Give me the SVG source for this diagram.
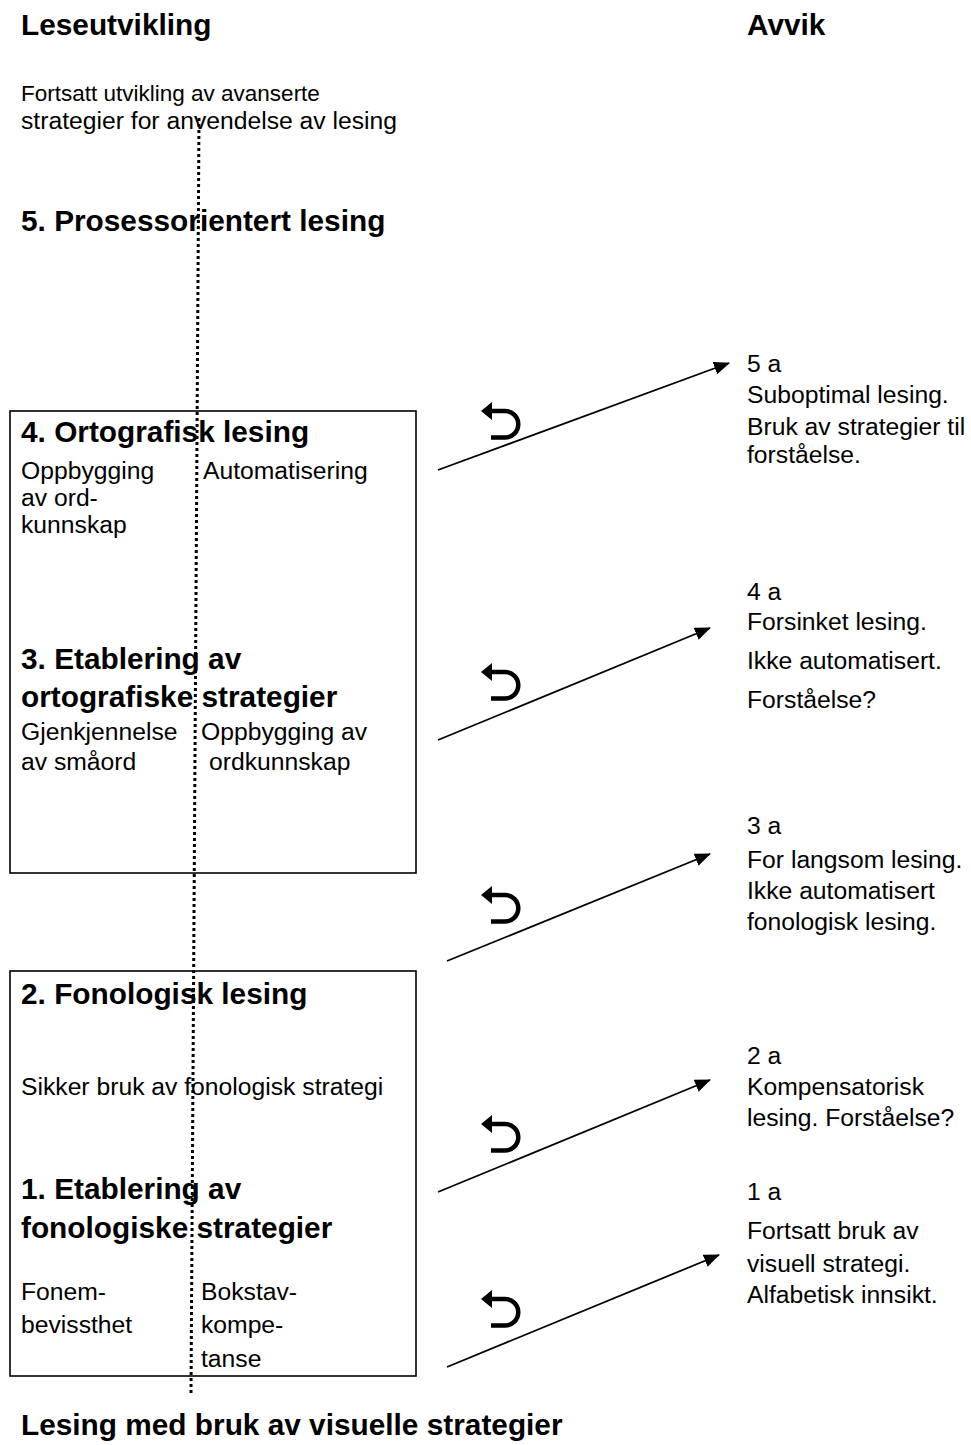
<svg xmlns="http://www.w3.org/2000/svg" width="971" height="1445" viewBox="0 0 971 1445">
<style>
text{font-family:"Liberation Sans",Arial,sans-serif;fill:#000}
.h{font-size:29.8px;font-weight:bold}
.t{font-size:24.7px}
.s{font-size:22.5px}
.box{fill:none;stroke:#000;stroke-width:1.6}
.conn{stroke:#000;stroke-width:1.8;fill:none}
.uturn{fill:none;stroke:#000;stroke-width:4.5}
</style>
<defs>
<marker id="ah" markerUnits="userSpaceOnUse" markerWidth="16" markerHeight="13" refX="15" refY="6.5" orient="auto">
<path d="M0,0 L16,6.5 L0,13 z" fill="#000"/>
</marker>
<g id="uturn-icon">
<polygon points="0,0 11,-9 11,9" fill="#000"/>
<path class="uturn" d="M10,0 H24 A13.3,13.3 0 0 1 24,26.6 H10"/>
</g>
</defs>
<rect width="971" height="1445" fill="#fff"/>

<g id="headers">
<text class="h" x="21" y="35">Leseutvikling</text>
<text class="h" x="747" y="35">Avvik</text>
</g>

<g id="top-text">
<text class="s" x="21" y="101">Fortsatt utvikling av avanserte</text>
<text class="t" x="21" y="129">strategier for anvendelse av lesing</text>
</g>

<g id="stage5">
<text class="h" x="21" y="231">5. Prosessorientert lesing</text>
</g>

<g id="box-upper">
<rect class="box" x="10" y="411" width="406" height="462"/>
<g id="stage4">
<text class="h" x="21" y="442">4. Ortografisk lesing</text>
<text class="t" x="21" y="479">Oppbygging</text>
<text class="t" x="21" y="506">av ord-</text>
<text class="t" x="21" y="533">kunnskap</text>
<text class="t" x="203" y="479">Automatisering</text>
</g>
<g id="stage3">
<text class="h" x="21" y="669">3. Etablering av</text>
<text class="h" x="21" y="707">ortografiske strategier</text>
<text class="t" x="21" y="740">Gjenkjennelse</text>
<text class="t" x="21" y="770">av småord</text>
<text class="t" x="201" y="740">Oppbygging av</text>
<text class="t" x="209" y="770">ordkunnskap</text>
</g>
</g>

<g id="box-lower">
<rect class="box" x="10" y="971" width="406" height="405"/>
<g id="stage2">
<text class="h" x="21" y="1004">2. Fonologisk lesing</text>
<text class="t" x="21" y="1095">Sikker bruk av fonologisk strategi</text>
</g>
<g id="stage1">
<text class="h" x="21" y="1199">1. Etablering av</text>
<text class="h" x="21" y="1238">fonologiske strategier</text>
<text class="t" x="21" y="1300">Fonem-</text>
<text class="t" x="21" y="1333">bevissthet</text>
<text class="t" x="201" y="1300">Bokstav-</text>
<text class="t" x="201" y="1333">kompe-</text>
<text class="t" x="201" y="1367">tanse</text>
</g>
</g>

<g id="stage0">
<text class="h" x="21" y="1435">Lesing med bruk av visuelle strategier</text>
</g>

<g id="dev5a">
<text class="t" x="747" y="372">5 a</text>
<text class="t" x="747" y="403">Suboptimal lesing.</text>
<text class="t" x="747" y="435">Bruk av strategier til</text>
<text class="t" x="747" y="463">forståelse.</text>
</g>
<g id="dev4a">
<text class="t" x="747" y="600">4 a</text>
<text class="t" x="747" y="630">Forsinket lesing.</text>
<text class="t" x="747" y="669">Ikke automatisert.</text>
<text class="t" x="747" y="708">Forståelse?</text>
</g>
<g id="dev3a">
<text class="t" x="747" y="834">3 a</text>
<text class="t" x="747" y="868">For langsom lesing.</text>
<text class="t" x="747" y="899">Ikke automatisert</text>
<text class="t" x="747" y="930">fonologisk lesing.</text>
</g>
<g id="dev2a">
<text class="t" x="747" y="1064">2 a</text>
<text class="t" x="747" y="1095">Kompensatorisk</text>
<text class="t" x="747" y="1126">lesing. Forståelse?</text>
</g>
<g id="dev1a">
<text class="t" x="747" y="1200">1 a</text>
<text class="t" x="747" y="1239">Fortsatt bruk av</text>
<text class="t" x="747" y="1272">visuell strategi.</text>
<text class="t" x="747" y="1303">Alfabetisk innsikt.</text>
</g>

<g id="connectors">
<line x1="199" y1="118" x2="191" y2="1393" stroke="#000" stroke-width="3" stroke-dasharray="3 3"/>
<line class="conn" x1="438" y1="470" x2="729" y2="363" marker-end="url(#ah)"/>
<line class="conn" x1="438" y1="740" x2="710" y2="628" marker-end="url(#ah)"/>
<line class="conn" x1="447" y1="961" x2="710" y2="854" marker-end="url(#ah)"/>
<line class="conn" x1="438" y1="1192" x2="710" y2="1080" marker-end="url(#ah)"/>
<line class="conn" x1="447" y1="1367" x2="719" y2="1255" marker-end="url(#ah)"/>
<use href="#uturn-icon" x="481" y="411"/>
<use href="#uturn-icon" x="481" y="672"/>
<use href="#uturn-icon" x="481" y="895"/>
<use href="#uturn-icon" x="481" y="1124"/>
<use href="#uturn-icon" x="481" y="1299"/>
</g>
</svg>
